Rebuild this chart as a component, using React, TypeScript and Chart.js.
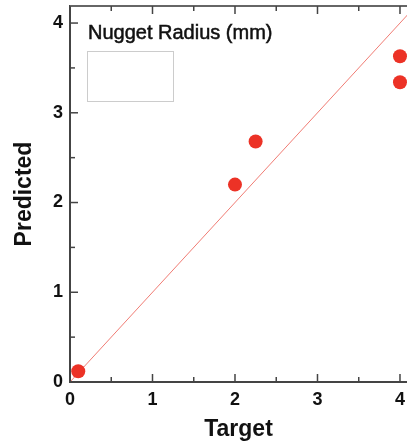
import React, { useEffect, useRef } from "react";
import { Chart, registerables } from "chart.js";

Chart.register(...registerables);

const targetValues = [0.1, 2.0, 2.25, 4.0, 4.0];
const predictedValues = [0.12, 2.2, 2.68, 3.63, 3.34];
const idealX = [0, 4.3];
const idealY = [0, 4.3];
const tickValues = [0, 1, 2, 3, 4];
const legendTitle = "Nugget Radius (mm)";
const xTitle = "Target";
const yTitle = "Predicted";

const decorPlugin = {
  id: "decor",
  afterDraw(chart: any) {
    const { ctx, chartArea, scales } = chart;
    const xs = scales.x;
    const ys = scales.y;
    ctx.save();
    ctx.strokeStyle = "#666";
    ctx.lineWidth = 2;
    ctx.beginPath();
    ctx.moveTo(chartArea.left, chartArea.top);
    ctx.lineTo(chart.width, chartArea.top);
    ctx.stroke();
    ctx.strokeStyle = "#444";
    ctx.lineWidth = 1.5;
    for (let v = 0; v <= 4.001; v += 0.5) {
      const len = Math.abs(v - Math.round(v)) < 1e-6 ? 8 : 5;
      const px = xs.getPixelForValue(v);
      ctx.beginPath();
      ctx.moveTo(px, chartArea.bottom);
      ctx.lineTo(px, chartArea.bottom - len);
      ctx.stroke();
      ctx.beginPath();
      ctx.moveTo(px, chartArea.top);
      ctx.lineTo(px, chartArea.top + len);
      ctx.stroke();
      const py = ys.getPixelForValue(v);
      ctx.beginPath();
      ctx.moveTo(chartArea.left, py);
      ctx.lineTo(chartArea.left + len, py);
      ctx.stroke();
    }
    ctx.fillStyle = "#111";
    ctx.strokeStyle = "#111";
    ctx.lineWidth = 0.5;
    ctx.font = "20px 'Liberation Sans', Arial, sans-serif";
    ctx.textBaseline = "alphabetic";
    ctx.textAlign = "left";
    ctx.fillText(legendTitle, 88, 39);
    ctx.strokeText(legendTitle, 88, 39);
    ctx.strokeStyle = "#cccccc";
    ctx.lineWidth = 1;
    ctx.strokeRect(87.5, 51.5, 86, 50);
    ctx.restore();
  },
};

export default function App() {
  const ref = useRef<HTMLCanvasElement>(null);
  useEffect(() => {
    if (!ref.current) return;
    const tickFont = { family: "'Liberation Sans', Arial, sans-serif", size: 18, weight: "bold" as const };
    const titleFont = { family: "'Liberation Sans', Arial, sans-serif", size: 23, weight: "bold" as const };
    const chart = new Chart(ref.current, {
      type: "scatter",
      data: {
        datasets: [
          {
            type: "scatter",
            data: targetValues.map((x, i) => ({ x, y: predictedValues[i] })),
            backgroundColor: "#ec3226",
            borderColor: "#ec3226",
            pointRadius: 7,
            borderWidth: 0,
            order: 1,
            clip: false,
          } as any,
          {
            type: "line",
            data: idealX.map((x, i) => ({ x, y: idealY[i] })),
            borderColor: "rgba(235,80,70,0.75)",
            borderWidth: 1,
            pointRadius: 0,
            fill: false,
            order: 2,
          } as any,
        ],
      },
      options: {
        responsive: false,
        animation: false,
        layout: { autoPadding: false, padding: { top: 6, right: 0, left: 0, bottom: 0 } },
        plugins: { legend: { display: false }, tooltip: { enabled: false } },
        scales: {
          x: {
            type: "linear",
            min: 0,
            max: 4.085,
            afterFit: (s: any) => {
              s.height = 65;
              s.paddingLeft = 0;
              s.paddingRight = 0;
            },
            afterBuildTicks: (s: any) => { s.ticks = tickValues.map((v) => ({ value: v })); },
            grid: { display: false, drawTicks: false, tickLength: 0 },
            border: { display: true, color: "#444", width: 2 },
            ticks: { font: tickFont, color: "#111", padding: 7, maxRotation: 0 },
            title: { display: true, text: xTitle, font: titleFont, color: "#111", padding: { top: 0, bottom: 4 } },
          },
          y: {
            type: "linear",
            min: 0,
            max: 4.19,
            afterFit: (s: any) => {
              s.width = 70;
              s.paddingTop = 0;
              s.paddingBottom = 0;
            },
            afterBuildTicks: (s: any) => { s.ticks = tickValues.map((v) => ({ value: v })); },
            grid: { display: false, drawTicks: false, tickLength: 0 },
            border: { display: true, color: "#444", width: 2 },
            ticks: { font: tickFont, color: "#111", padding: 7 },
            title: { display: true, text: yTitle, font: titleFont, color: "#111", padding: { top: 11, bottom: 0 } },
          },
        },
      },
      plugins: [decorPlugin],
    });
    return () => chart.destroy();
  }, []);
  return (
    <div style={{ position: "fixed", left: 0, top: 0, width: 407, height: 447, background: "#fff" }}>
      <canvas ref={ref} width={407} height={447} />
    </div>
  );
}
